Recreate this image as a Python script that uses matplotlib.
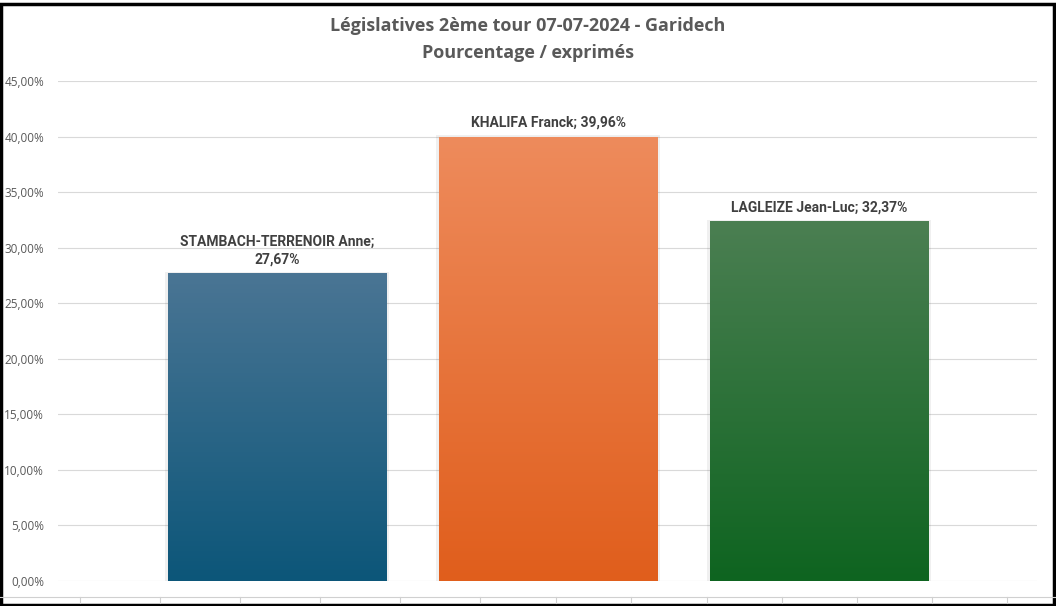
import numpy as np
import matplotlib.pyplot as plt
from matplotlib.colors import LinearSegmentedColormap
from matplotlib.lines import Line2D
from matplotlib.patches import Rectangle

candidats = ["STAMBACH-TERRENOIR Anne", "KHALIFA Franck", "LAGLEIZE Jean-Luc"]
pourcentages = [27.67, 39.96, 32.37]
etiquettes = ["STAMBACH-TERRENOIR Anne;\n27,67%", "KHALIFA Franck; 39,96%", "LAGLEIZE Jean-Luc; 32,37%"]
couleurs_haut = ["#4a7594", "#ee8b5c", "#4b7f52"]
couleurs_bas = ["#0c5679", "#e05e1c", "#0e6420"]
graduations = np.arange(0, 46, 5)

label_font = ['Liberation Sans Narrow', 'Roboto', 'DejaVu Sans']

fig = plt.figure(figsize=(10.56, 6.06), dpi=100)
ax = fig.add_axes([58 / 1056, 1 - 581 / 606, (1037 - 58) / 1056, 500 / 606])

x = np.arange(len(candidats))
largeur = 0.805
grad = np.linspace(0, 1, 256).reshape(-1, 1)
for i, v in enumerate(pourcentages):
    cmap = LinearSegmentedColormap.from_list("g%d" % i, [couleurs_bas[i], couleurs_haut[i]])
    # ombre legere
    ax.add_patch(Rectangle((x[i] - largeur / 2 - 0.012, 0), largeur + 0.024, v + 0.15,
                           facecolor="#000000", alpha=0.06, edgecolor="none", zorder=2))
    ax.imshow(grad, cmap=cmap, origin="lower", aspect="auto",
              extent=(x[i] - largeur / 2, x[i] + largeur / 2, 0, v), zorder=3)
    ax.text(x[i], v + 0.65, etiquettes[i], ha="center", va="bottom", fontsize=10,
            fontweight="bold", color="#404040", family=label_font, linespacing=1.3, zorder=4)

ax.set_xlim(-0.808, 2.804)
ax.set_ylim(0, 45)
ax.set_yticks(graduations)
ax.set_yticklabels(["%d,00%%" % g for g in graduations], fontsize=8.5, color="#595959",
                   family=['Open Sans', 'DejaVu Sans'])
ax.set_xticks([])
ax.tick_params(axis="y", length=0, pad=10)
ax.grid(axis="y", color="#d9d9d9", linewidth=0.8, zorder=0)
ax.set_axisbelow(True)
for s in ax.spines.values():
    s.set_visible(False)

fig.text(0.5, 1 - 26 / 606, "Législatives 2ème tour 07-07-2024 - Garidech", ha="center", va="center",
         fontsize=13, fontweight="bold", color="#595959", family=['Open Sans', 'DejaVu Sans'])
fig.text(0.5, 1 - 53 / 606, "Pourcentage / exprimés", ha="center", va="center",
         fontsize=13, fontweight="bold", color="#595959", family=['Open Sans', 'DejaVu Sans'])

# lignes de la feuille en bas
fig.add_artist(Line2D([0, 1], [1 - 597 / 606] * 2, color="#d0d0d0", linewidth=0.8))
for xc in [80, 160, 240, 320, 400, 480, 556, 631, 707, 782, 857, 932, 1007]:
    fig.add_artist(Line2D([xc / 1056] * 2, [1 - 597 / 606, 1 - 603 / 606], color="#d0d0d0", linewidth=0.8))

# cadre noir
fig.add_artist(Rectangle((0.5 / 1056, 1 / 606), 1 - 3 / 1056, 1 - 4.5 / 606, transform=fig.transFigure,
                         fill=False, edgecolor="black", linewidth=2.5))

fig.savefig("out.png", dpi=100)
